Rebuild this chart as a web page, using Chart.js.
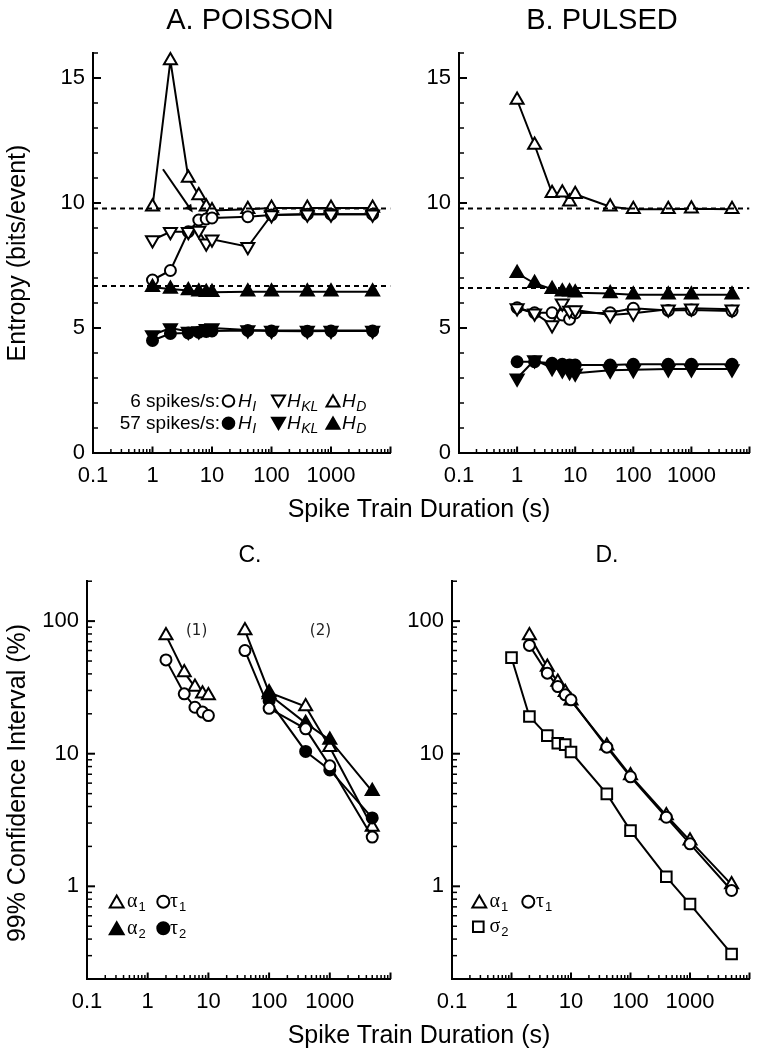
<!DOCTYPE html>
<html>
<head>
<meta charset="utf-8">
<script src="https://cdn.jsdelivr.net/npm/chart.js@4.4.0/dist/chart.umd.min.js"></script>
<style>
  html, body { margin: 0; padding: 0; background: #fff; }
  body { width: 759px; height: 1051px; position: relative; overflow: hidden;
         font-family: "Liberation Sans", Arial, Helvetica, sans-serif; color: #000; }
  canvas { position: absolute; }
  .t { position: absolute; white-space: nowrap; line-height: 1; color: #000; }
  .c { transform: translateX(-50%); }
  .r { transform: translate(-50%, -50%) rotate(-90deg); }
</style>
</head>
<body>
<canvas id="cA" width="400" height="470" style="left:0px;top:30px;width:400px;height:470px"></canvas>
<canvas id="cB" width="359" height="470" style="left:400px;top:30px;width:359px;height:470px"></canvas>
<canvas id="cC" width="400" height="465" style="left:0px;top:560px;width:400px;height:465px"></canvas>
<canvas id="cD" width="359" height="465" style="left:400px;top:560px;width:359px;height:465px"></canvas>

<div class="t c" style="left:250px;top:4.5px;font-size:29px;">A. POISSON</div>
<div class="t c" style="left:602px;top:4.5px;font-size:29px;">B. PULSED</div>
<div class="t c" style="left:250px;top:543px;font-size:23px;">C.</div>
<div class="t c" style="left:607px;top:543px;font-size:23px;">D.</div>
<div class="t c" style="left:419px;top:496px;font-size:25px;">Spike Train Duration (s)</div>
<div class="t c" style="left:419px;top:1022px;font-size:25px;">Spike Train Duration (s)</div>
<div class="t r" style="left:15.5px;top:253px;font-size:25px;">Entropy (bits/event)</div>
<div class="t r" style="left:15.5px;top:783px;font-size:25px;">99% Confidence Interval (%)</div>

<script>
// ---------------- data ----------------
const durations = [1, 2, 4, 6, 8, 10, 40, 100, 400, 1000, 5000];

// Panel A: Poisson (bits/event)
const poissonHI6   = [6.92, 7.30, 8.85, 9.32, 9.36, 9.40, 9.45, 9.52, 9.55, 9.55, 9.55];
const poissonHKL6  = [8.52, 8.85, 8.85, 8.90, 8.39, 8.55, 8.25, 9.52, 9.55, 9.55, 9.55];
const poissonHD6   = [9.85, 15.70, 11.00, 10.30, 9.85, 9.70, 9.75, 9.80, 9.80, 9.80, 9.80];
const poissonHI57  = [4.50, 4.78, 4.80, 4.83, 4.86, 4.88, 4.90, 4.88, 4.87, 4.88, 4.88];
const poissonHKL57 = [4.72, 5.00, 4.86, 4.88, 4.97, 5.00, 4.92, 4.90, 4.90, 4.90, 4.90];
const poissonHD57  = [6.63, 6.56, 6.50, 6.45, 6.43, 6.43, 6.45, 6.45, 6.45, 6.45, 6.45];
const poissonRefs  = [9.78, 6.68];

// Panel B: Pulsed (bits/event)
const pulsedHI6   = [5.81, 5.61, 5.61, 5.52, 5.35, 5.60, 5.61, 5.79, 5.70, 5.72, 5.68];
const pulsedHKL6  = [5.80, 5.59, 5.12, 5.99, 5.70, 5.72, 5.52, 5.59, 5.75, 5.79, 5.75];
const pulsedHD6   = [14.12, 12.32, 10.39, 10.41, 10.05, 10.35, 9.85, 9.75, 9.75, 9.77, 9.75];
const pulsedHI57  = [3.65, 3.65, 3.59, 3.55, 3.52, 3.52, 3.52, 3.55, 3.55, 3.55, 3.55];
const pulsedHKL57 = [2.99, 3.72, 3.41, 3.32, 3.25, 3.19, 3.31, 3.33, 3.36, 3.36, 3.36];
const pulsedHD57  = [7.19, 6.79, 6.55, 6.45, 6.45, 6.41, 6.38, 6.33, 6.33, 6.33, 6.33];
const pulsedRefs  = [9.78, 6.60];

// Panel C: 99% confidence interval (%), two groups
const cDurations1 = [2, 4, 6, 8, 10];
const cAlpha1G1   = [78, 41, 31.8, 28.3, 27.5];
const cTau1G1     = [51, 28.3, 22.4, 20.6, 19.4];
const cDurations2 = [40, 100, 400, 1000, 5000];
const cAlpha1G2   = [85, 29, 22.7, 11.2, 2.8];
const cTau1G2     = [60, 22, 15.4, 8.1, 2.35];
const cDurations2b = [100, 400, 1000, 5000];
const cAlpha2G2   = [28, 17, 12.7, 5.2];
const cTau2G2     = [25, 10.4, 7.55, 3.28];

// Panel D: 99% confidence interval (%)
const dDurations  = [2, 4, 6, 8, 10, 40, 100, 400, 1000, 5000];
const dAlpha1     = [78, 45, 34.7, 29.1, 25.1, 11.5, 6.84, 3.42, 2.21, 1.03];
const dTau1       = [65.6, 40.5, 32.1, 27.8, 25.5, 11.2, 6.7, 3.32, 2.09, 0.93];
const dSigma2     = [53, 19.1, 13.7, 12.0, 11.7, 10.3, 4.98, 2.63, 1.18, 0.735, 0.309];

// ticks
const xTickValues = [0.1, 1, 10, 100, 1000];
const xTickLabels = ['0.1', '1', '10', '100', '1000'];
const entropyTickValues = [0, 5, 10, 15];
const entropyTickLabels = ['0', '5', '10', '15'];
const ciTickValues = [1, 10, 100];
const ciTickLabels = ['1', '10', '100'];

// ---------------- helpers ----------------
const FONT = '"Liberation Sans", Arial, Helvetica, sans-serif';
const SERIF = '"Liberation Serif", "DejaVu Serif", serif';

function pts(xs, ys) { return xs.map((x, i) => ({ x: x, y: ys[i] })); }

function series(xs, ys, style, filled, rot) {
  const r = style === 'circle' ? 5.5 : (style === 'rect' ? 7.5 : 7.5);
  return {
    data: pts(xs, ys), showLine: true, borderColor: '#000', borderWidth: 2,
    pointStyle: style, pointRadius: r, pointHoverRadius: r, pointRotation: rot || 0,
    pointBackgroundColor: filled ? '#000' : '#fff', pointBorderColor: '#000',
    pointBorderWidth: 2, tension: 0, clip: false
  };
}
function refLine(v) {
  return { data: [{ x: 0.1, y: v }, { x: 10000, y: v }], showLine: true, borderColor: '#000',
           borderWidth: 1.8, borderDash: [5, 4], pointRadius: 0, pointHoverRadius: 0, tension: 0 };
}

function logMarks(lo, hi) {
  const out = [];
  for (let e = -1; e <= 4; e++) for (let k = 1; k <= 9; k++) {
    const v = +(k * Math.pow(10, e)).toPrecision(6);
    if (v >= lo * 0.999 && v <= hi * 1.001) out.push([v, k === 1]);
  }
  return out;
}
function linMarks(lo, hi, step, every) {
  const out = [];
  for (let v = lo; v <= hi; v += step) out.push([v, v % every === 0]);
  return out;
}

function drawMarker(ctx, style, x, y, r, filled, rot) {
  ctx.save();
  ctx.beginPath();
  if (style === 'circle') {
    ctx.arc(x, y, r, 0, Math.PI * 2);
  } else if (style === 'triangle') {
    let a = (rot || 0) * Math.PI / 180;
    for (let k = 0; k < 3; k++) {
      const px = x + Math.sin(a) * r, py = y - Math.cos(a) * r;
      if (k) ctx.lineTo(px, py); else ctx.moveTo(px, py);
      a += 2 * Math.PI / 3;
    }
    ctx.closePath();
  } else {
    const s = r * Math.SQRT1_2;
    ctx.rect(x - s, y - s, 2 * s, 2 * s);
  }
  ctx.fillStyle = filled ? '#000' : '#fff';
  ctx.fill();
  ctx.lineWidth = 2; ctx.strokeStyle = '#000'; ctx.stroke();
  ctx.restore();
}

function decor(cfg) {
  return {
    id: 'decor',
    afterDatasetsDraw(chart) {
      const ctx = chart.ctx, xs = chart.scales.x, ys = chart.scales.y;
      ctx.save();
      if (cfg.arrow) {
        const x1 = xs.getPixelForValue(cfg.arrow[0]), y1 = ys.getPixelForValue(cfg.arrow[1]);
        const x2 = xs.getPixelForValue(cfg.arrow[2]), y2 = ys.getPixelForValue(cfg.arrow[3]);
        const ang = Math.atan2(y2 - y1, x2 - x1), L = 9, w = 0.42;
        ctx.strokeStyle = '#000'; ctx.fillStyle = '#000'; ctx.lineWidth = 2;
        ctx.beginPath(); ctx.moveTo(x1, y1);
        ctx.lineTo(x2 - Math.cos(ang) * 5, y2 - Math.sin(ang) * 5); ctx.stroke();
        ctx.beginPath(); ctx.moveTo(x2, y2);
        ctx.lineTo(x2 - L * Math.cos(ang - w), y2 - L * Math.sin(ang - w));
        ctx.lineTo(x2 - L * Math.cos(ang + w), y2 - L * Math.sin(ang + w));
        ctx.closePath(); ctx.fill();
      }
      if (cfg.notes) {
        ctx.font = '15px "DejaVu Sans", sans-serif'; ctx.fillStyle = '#222';
        ctx.textAlign = 'center'; ctx.textBaseline = 'middle';
        cfg.notes.forEach(n => ctx.fillText(n[0], xs.getPixelForValue(n[1]), ys.getPixelForValue(n[2])));
      }
      ctx.restore();
    },
    afterDraw(chart) {
      const ctx = chart.ctx, xs = chart.scales.x, ys = chart.scales.y, ca = chart.chartArea;
      ctx.save();
      ctx.strokeStyle = '#000';
      cfg.xMarks.forEach(m => {
        const p = xs.getPixelForValue(m[0]);
        ctx.lineWidth = m[1] ? 2 : 1.5;
        ctx.beginPath(); ctx.moveTo(p, ca.bottom); ctx.lineTo(p, ca.bottom - (m[1] ? 6.5 : 4)); ctx.stroke();
      });
      cfg.yMarks.forEach(m => {
        const p = ys.getPixelForValue(m[0]);
        ctx.lineWidth = m[1] ? 2 : 1.5;
        ctx.beginPath(); ctx.moveTo(ca.left, p); ctx.lineTo(ca.left + (m[1] ? 8 : 5), p); ctx.stroke();
      });
      // legend (page coordinates)
      const ox = cfg.left, oy = cfg.top;
      (cfg.legend || []).forEach(it => {
        if (it.t === 'mk') {
          drawMarker(ctx, it.st, it.x - ox, it.y - oy, it.r, it.f, it.rot);
        } else if (it.t === 'text') {
          ctx.font = it.font; ctx.fillStyle = '#000'; ctx.textBaseline = 'alphabetic';
          ctx.textAlign = it.align || 'left';
          ctx.fillText(it.s, it.x - ox, it.y - oy);
        } else if (it.t === 'sub') {
          ctx.fillStyle = '#000'; ctx.textBaseline = 'alphabetic'; ctx.textAlign = 'left';
          ctx.font = it.font;
          ctx.fillText(it.s, it.x - ox, it.y - oy);
          const w = ctx.measureText(it.s).width;
          ctx.font = it.subFont;
          ctx.fillText(it.sub, it.x - ox + w + (it.gap || 0.5), it.y - oy + it.dy);
        }
      });
      ctx.restore();
    }
  };
}

function xScale(h) {
  return {
    type: 'logarithmic', position: 'bottom', min: 0.1, max: 10000,
    afterBuildTicks: s => { s.ticks = xTickValues.map(v => ({ value: v })); },
    afterFit: s => { s.height = h; },
    grid: { display: false, drawTicks: false, drawOnChartArea: false },
    border: { display: true, color: '#000', width: 2 },
    ticks: { color: '#000', font: { family: FONT, size: 22 }, padding: 10, autoSkip: false,
             maxRotation: 0, minRotation: 0, callback: (v, i) => xTickLabels[i] }
  };
}
function yEntropy(w) {
  return {
    type: 'linear', position: 'left', min: 0, max: 16,
    afterBuildTicks: s => { s.ticks = entropyTickValues.map(v => ({ value: v })); },
    afterFit: s => { s.width = w; },
    grid: { display: false, drawTicks: false, drawOnChartArea: false },
    border: { display: true, color: '#000', width: 2 },
    ticks: { color: '#000', font: { family: FONT, size: 22 }, padding: 8,
             callback: (v, i) => entropyTickLabels[i] }
  };
}
function yCI(w) {
  return {
    type: 'logarithmic', position: 'left', min: 0.2, max: 200,
    afterBuildTicks: s => { s.ticks = ciTickValues.map(v => ({ value: v })); },
    afterFit: s => { s.width = w; },
    grid: { display: false, drawTicks: false, drawOnChartArea: false },
    border: { display: true, color: '#000', width: 2 },
    ticks: { color: '#000', font: { family: FONT, size: 22 }, padding: 8,
             callback: (v, i) => ciTickLabels[i] }
  };
}

function baseOptions(pad, xs, ys) {
  return {
    responsive: false, animation: false, devicePixelRatio: 1, events: [],
    layout: { padding: pad },
    plugins: { legend: { display: false }, tooltip: { enabled: false }, title: { display: false } },
    scales: { x: xs, y: ys }
  };
}

const xMarks = logMarks(0.1, 10000);
const entropyMarks = linMarks(0, 16, 1, 5);
const ciMarks = logMarks(0.2, 200);

const LF = '19px ' + FONT, LI = 'italic 19px ' + FONT, LS = 'italic 14px ' + FONT;
const GF = '20px ' + SERIF, GS = '13px ' + FONT;

// ---------------- Panel A ----------------
new Chart(document.getElementById('cA'), {
  type: 'scatter',
  data: { datasets: [
    refLine(poissonRefs[0]), refLine(poissonRefs[1]),
    series(durations, poissonHD57, 'triangle', true),
    series(durations, poissonHI57, 'circle', true),
    series(durations, poissonHKL57, 'triangle', true, 180),
    series(durations, poissonHKL6, 'triangle', false, 180),
    series(durations, poissonHI6, 'circle', false),
    series(durations, poissonHD6, 'triangle', false)
  ] },
  options: baseOptions({ left: 0, top: 23, right: 3, bottom: 0 }, xScale(47), yEntropy(93)),
  plugins: [decor({
    left: 0, top: 30, xMarks: xMarks, yMarks: entropyMarks,
    arrow: [1.5, 11.35, 4.75, 9.62],
    legend: [
      { t: 'text', s: '6 spikes/s:', x: 220, y: 407, font: LF, align: 'right' },
      { t: 'mk', st: 'circle', x: 228.5, y: 401, r: 5.8, f: false },
      { t: 'sub', s: 'H', sub: 'I', x: 238, y: 407, font: LI, subFont: LS, dy: 4 },
      { t: 'mk', st: 'triangle', rot: 180, x: 278.5, y: 399.3, r: 7.5, f: false },
      { t: 'sub', s: 'H', sub: 'KL', x: 287, y: 407, font: LI, subFont: LS, dy: 4 },
      { t: 'mk', st: 'triangle', x: 333, y: 402.7, r: 7.5, f: false },
      { t: 'sub', s: 'H', sub: 'D', x: 342, y: 407, font: LI, subFont: LS, dy: 4 },
      { t: 'text', s: '57 spikes/s:', x: 220, y: 429, font: LF, align: 'right' },
      { t: 'mk', st: 'circle', x: 228.5, y: 423.3, r: 5.8, f: true },
      { t: 'sub', s: 'H', sub: 'I', x: 238, y: 429, font: LI, subFont: LS, dy: 4 },
      { t: 'mk', st: 'triangle', rot: 180, x: 278.5, y: 421.6, r: 7.5, f: true },
      { t: 'sub', s: 'H', sub: 'KL', x: 287, y: 429, font: LI, subFont: LS, dy: 4 },
      { t: 'mk', st: 'triangle', x: 333, y: 425, r: 7.5, f: true },
      { t: 'sub', s: 'H', sub: 'D', x: 342, y: 429, font: LI, subFont: LS, dy: 4 }
    ]
  })]
});

// ---------------- Panel B ----------------
new Chart(document.getElementById('cB'), {
  type: 'scatter',
  data: { datasets: [
    refLine(pulsedRefs[0]), refLine(pulsedRefs[1]),
    series(durations, pulsedHKL57, 'triangle', true, 180),
    series(durations, pulsedHI57, 'circle', true),
    series(durations, pulsedHD57, 'triangle', true),
    series(durations, pulsedHKL6, 'triangle', false, 180),
    series(durations, pulsedHI6, 'circle', false),
    series(durations, pulsedHD6, 'triangle', false)
  ] },
  options: baseOptions({ left: 0, top: 23, right: 1, bottom: 0 }, xScale(47), yEntropy(59)),
  plugins: [decor({ left: 400, top: 30, xMarks: xMarks, yMarks: entropyMarks })]
});

// ---------------- Panel C ----------------
new Chart(document.getElementById('cC'), {
  type: 'scatter',
  data: { datasets: [
    series(cDurations1, cTau1G1, 'circle', false),
    series(cDurations1, cAlpha1G1, 'triangle', false),
    series(cDurations2, cTau1G2, 'circle', false),
    series(cDurations2b, cTau2G2, 'circle', true),
    series(cDurations2b, cAlpha2G2, 'triangle', true),
    series(cDurations2, cAlpha1G2, 'triangle', false)
  ] },
  options: baseOptions({ left: 0, top: 19, right: 9, bottom: 0 }, xScale(46), yCI(87)),
  plugins: [decor({
    left: 0, top: 560, xMarks: xMarks, yMarks: ciMarks,
    notes: [['(1)', 6.4, 84], ['(2)', 700, 84]],
    legend: [
      { t: 'mk', st: 'triangle', x: 116.7, y: 903.5, r: 8, f: false },
      { t: 'sub', s: 'α', sub: '1', x: 127, y: 907, font: GF, subFont: GS, dy: 4, gap: 1 },
      { t: 'mk', st: 'circle', x: 163.3, y: 901.7, r: 6, f: false },
      { t: 'sub', s: 'τ', sub: '1', x: 170, y: 907, font: GF, subFont: GS, dy: 4, gap: 1 },
      { t: 'mk', st: 'triangle', x: 116.7, y: 930.3, r: 8, f: true },
      { t: 'sub', s: 'α', sub: '2', x: 127, y: 933.6, font: GF, subFont: GS, dy: 4, gap: 1 },
      { t: 'mk', st: 'circle', x: 163.3, y: 928.3, r: 6, f: true },
      { t: 'sub', s: 'τ', sub: '2', x: 170, y: 933.6, font: GF, subFont: GS, dy: 4, gap: 1 }
    ]
  })]
});

// ---------------- Panel D ----------------
new Chart(document.getElementById('cD'), {
  type: 'scatter',
  data: { datasets: [
    series(durations, dSigma2, 'rect', false),
    series(dDurations, dTau1, 'circle', false),
    series(dDurations, dAlpha1, 'triangle', false)
  ] },
  options: baseOptions({ left: 0, top: 19, right: 3, bottom: 0 }, xScale(46), yCI(52)),
  plugins: [decor({
    left: 400, top: 560, xMarks: xMarks, yMarks: ciMarks,
    legend: [
      { t: 'mk', st: 'triangle', x: 479.3, y: 903.5, r: 8, f: false },
      { t: 'sub', s: 'α', sub: '1', x: 489.5, y: 907, font: GF, subFont: GS, dy: 4, gap: 1 },
      { t: 'mk', st: 'circle', x: 528.3, y: 901.7, r: 6, f: false },
      { t: 'sub', s: 'τ', sub: '1', x: 536, y: 907, font: GF, subFont: GS, dy: 4, gap: 1 },
      { t: 'mk', st: 'rect', x: 478.3, y: 926.7, r: 7.5, f: false },
      { t: 'sub', s: 'σ', sub: '2', x: 489.5, y: 932.3, font: GF, subFont: GS, dy: 4, gap: 1 }
    ]
  })]
});
</script>
</body>
</html>
